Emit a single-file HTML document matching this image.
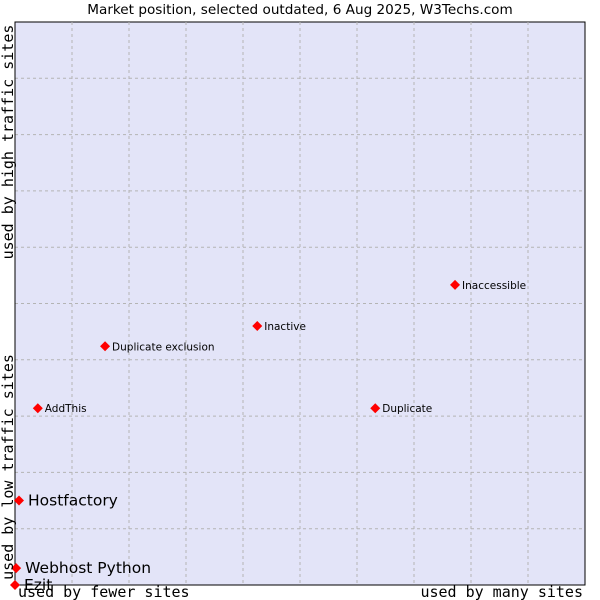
<!DOCTYPE html>
<html><head><meta charset="utf-8"><style>
body{margin:0;background:#fff;width:600px;height:600px;overflow:hidden}
svg{display:block;font-family:"DejaVu Sans","Liberation Sans",sans-serif}
</style></head><body>
<svg id="chart" width="600" height="600">
<text x="300" y="14" text-anchor="middle" font-size="13.6" fill="#000">Market position, selected outdated, 6 Aug 2025, W3Techs.com</text>
<rect x="15" y="22" width="570" height="563" fill="#e3e4f8" stroke="#000" stroke-width="1"/>
<g id="grid"></g>
<line x1="15" y1="22" x2="15" y2="585" stroke="#000"/>
<line x1="15" y1="585" x2="585" y2="585" stroke="#000"/>
<g id="points"></g>
<text x="18" y="597" font-family="DejaVu Sans Mono,Liberation Mono,monospace" font-size="15">used by fewer sites</text>
<text x="583" y="597" text-anchor="end" font-family="DejaVu Sans Mono,Liberation Mono,monospace" font-size="15">used by many sites</text>
<text transform="translate(13,142) rotate(-90)" text-anchor="middle" font-family="DejaVu Sans Mono,Liberation Mono,monospace" font-size="15">used by high traffic sites</text>
<text transform="translate(13,467) rotate(-90)" text-anchor="middle" font-family="DejaVu Sans Mono,Liberation Mono,monospace" font-size="15">used by low traffic sites</text>
</svg>
<script>
const names=["Ezit","Webhost Python","Hostfactory","AddThis","Duplicate exclusion","Inactive","Inaccessible","Duplicate"];
const xVals=[0,0.02,0.07,0.4,1.58,4.25,7.72,6.32];
const yVals=[0,0.3,1.5,3.14,4.24,4.6,5.33,3.14];
const bigLabel=[true,true,true,false,false,false,false,false];
const NS="http://www.w3.org/2000/svg";
const X0=15,X1=585,Y0=585,Y1=22;
const sx=v=>X0+(X1-X0)*v/10, sy=v=>Y0-(Y0-Y1)*v/10;
const grid=document.getElementById('grid');
for(let i=1;i<10;i++){
  const a=document.createElementNS(NS,'line');
  a.setAttribute('x1',sx(i));a.setAttribute('x2',sx(i));a.setAttribute('y1',Y1);a.setAttribute('y2',Y0);
  a.setAttribute('stroke','#b4b4b4');a.setAttribute('stroke-dasharray','3,3');
  
  
  grid.appendChild(a);
  const b=document.createElementNS(NS,'line');
  b.setAttribute('y1',sy(i));b.setAttribute('y2',sy(i));b.setAttribute('x1',X0);b.setAttribute('x2',X1);
  b.setAttribute('stroke','#b4b4b4');b.setAttribute('stroke-dasharray','3,3');
  
  
  grid.appendChild(b);
}
const pts=document.getElementById('points');
names.forEach((n,i)=>{
  const x=sx(xVals[i]),y=sy(yVals[i]);
  const d=document.createElementNS(NS,'polygon');
  d.setAttribute('points',`${x},${y-5} ${x+5},${y} ${x},${y+5} ${x-5},${y}`);
  d.setAttribute('fill','#f00');
  
  
  pts.appendChild(d);
  const t=document.createElementNS(NS,'text');
  const big=bigLabel[i];
  t.setAttribute('x',x+(big?9:7));t.setAttribute('y',y+(big?5:4));
  t.setAttribute('font-size',big?15.5:10.5);
  t.textContent=n;
  
  
  pts.appendChild(t);
});
</script>
</body></html>
